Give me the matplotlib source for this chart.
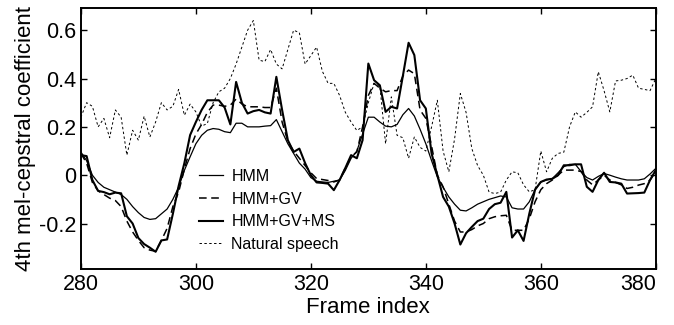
import numpy as np
import matplotlib
matplotlib.use("Agg")
import matplotlib.pyplot as plt

plt.rcParams['font.family'] = ['Liberation Sans', 'DejaVu Sans']

frames = np.arange(280, 381)

hmm = [0.096, 0.06, 0.0, -0.03, -0.05, -0.06, -0.07, -0.08, -0.10, -0.13,
       -0.155, -0.175, -0.183, -0.18, -0.16, -0.14, -0.10, -0.05, 0.02, 0.076,
       0.13, 0.165, 0.186, 0.193, 0.19, 0.18, 0.176, 0.215, 0.215, 0.2,
       0.2, 0.2, 0.203, 0.205, 0.23, 0.18, 0.13, 0.09, 0.05, 0.025,
       -0.01, -0.025, -0.028, -0.03, -0.025, -0.02, 0.02, 0.07, 0.10, 0.17,
       0.24, 0.24, 0.22, 0.203, 0.2, 0.21, 0.25, 0.276, 0.245, 0.19,
       0.13, 0.06, -0.007, -0.05, -0.09, -0.12, -0.145, -0.148, -0.135, -0.12,
       -0.11, -0.10, -0.093, -0.086, -0.09, -0.135, -0.14, -0.14, -0.11, -0.06,
       -0.028, -0.02, -0.014, 0.01, 0.035, 0.045, 0.045, 0.015, -0.01, -0.02,
       -0.005, 0.007, 0.0, -0.008, -0.015, -0.02, -0.02, -0.02, -0.015, 0.005,
       0.028]

hmm_gv = [0.09, 0.05, -0.03, -0.065, -0.08, -0.095, -0.105, -0.13, -0.19, -0.235,
          -0.27, -0.30, -0.31, -0.315, -0.27, -0.22, -0.13, -0.07, 0.025, 0.11,
          0.17, 0.21, 0.26, 0.29, 0.29, 0.285, 0.29, 0.315, 0.295, 0.283,
          0.283, 0.283, 0.28, 0.28, 0.36, 0.22, 0.14, 0.10, 0.07, 0.04,
          0.01, -0.014, -0.018, -0.022, -0.028, -0.02, 0.03, 0.076, 0.096, 0.2,
          0.33, 0.38, 0.36, 0.345, 0.35, 0.35, 0.41, 0.435, 0.42, 0.27,
          0.235, 0.12, 0.0, -0.048, -0.12, -0.19, -0.235, -0.235, -0.225, -0.21,
          -0.20, -0.18, -0.172, -0.168, -0.166, -0.228, -0.228, -0.228, -0.18, -0.11,
          -0.06, -0.035, -0.02, 0.0, 0.021, 0.021, 0.021, 0.015, -0.02, -0.04,
          -0.02, 0.0, -0.02, -0.03, -0.04, -0.055, -0.05, -0.041, -0.035, -0.02,
          0.015]

hmm_gv_ms = [0.083, 0.079, -0.02, -0.065, -0.07, -0.079, -0.072, -0.075, -0.17, -0.2,
             -0.26, -0.285, -0.30, -0.317, -0.27, -0.266, -0.16, -0.045, 0.05, 0.166,
             0.22, 0.27, 0.31, 0.31, 0.31, 0.28, 0.21, 0.386, 0.30, 0.255,
             0.265, 0.27, 0.26, 0.255, 0.407, 0.27, 0.145, 0.096, 0.11, 0.05,
             0.0, -0.03, -0.032, -0.035, -0.062, -0.02, 0.03, 0.083, 0.07, 0.145,
             0.462, 0.393, 0.372, 0.262, 0.283, 0.276, 0.41, 0.548, 0.497, 0.31,
             0.276, 0.09, 0.0, -0.09, -0.13, -0.2, -0.287, -0.24, -0.214, -0.19,
             -0.18, -0.14, -0.12, -0.114, -0.069, -0.258, -0.228, -0.272, -0.159, -0.06,
             -0.028, -0.018, -0.015, 0.0, 0.041, 0.041, 0.045, 0.045, -0.048, -0.069,
             -0.02, 0.01, -0.028, -0.03, -0.035, -0.076, -0.075, -0.074, -0.072, -0.02,
             0.021]

natural = [0.24, 0.30, 0.285, 0.20, 0.235, 0.155, 0.27, 0.24, 0.083, 0.186,
           0.145, 0.244, 0.158, 0.22, 0.30, 0.27, 0.285, 0.355, 0.248, 0.294,
           0.262, 0.203, 0.214, 0.30, 0.345, 0.36, 0.40, 0.46, 0.53, 0.60,
           0.64, 0.476, 0.47, 0.52, 0.46, 0.44, 0.52, 0.60, 0.59, 0.46,
           0.495, 0.53, 0.43, 0.38, 0.38, 0.33, 0.26, 0.22, 0.185, 0.20,
           0.30, 0.38, 0.37, 0.13, 0.324, 0.165, 0.155, 0.07, 0.158, 0.115,
           0.10, 0.2, 0.31, 0.1, 0.014, 0.15, 0.338, 0.26, 0.11, 0.04,
           0.0, -0.07, -0.076, -0.07, -0.02, 0.014, 0.01, -0.04, -0.069, -0.06,
           0.10, 0.014, 0.07, 0.09, 0.095, 0.2, 0.262, 0.24, 0.26, 0.283,
           0.428, 0.35, 0.262, 0.39, 0.393, 0.40, 0.414, 0.36, 0.355, 0.35,
           0.40]

xticks = [280, 300, 320, 340, 360, 380]
yticks = [-0.2, 0, 0.2, 0.4, 0.6]
ytick_labels = ['-0.2', '0', '0.2', '0.4', '0.6']

fig = plt.figure(figsize=(6.74, 3.25), dpi=100)
ax = fig.add_axes([0.120, 0.171, 0.853, 0.803])

ax.plot(frames, hmm, color='black', lw=0.9, label='HMM')
ax.plot(frames, hmm_gv, color='black', lw=1.1, ls=(0, (5, 3)), label='HMM+GV')
ax.plot(frames, hmm_gv_ms, color='black', lw=1.5, label='HMM+GV+MS')
ax.plot(frames, natural, color='black', lw=0.7, ls=(0, (2.5, 2.5)), label='Natural speech')

ax.set_xlim(280, 380)
ax.set_ylim(-0.39, 0.69)
ax.set_xticks(xticks)
ax.set_yticks(yticks)
ax.set_yticklabels(ytick_labels)
ax.tick_params(direction='in', top=True, right=True, labelsize=15.5, length=4, width=1)
ax.get_xticklabels()[-1].set_horizontalalignment('right')
for s in ax.spines.values():
    s.set_linewidth(1.4)

ax.set_xlabel('Frame index', fontsize=16, labelpad=1)
ax.set_ylabel('4th mel-cepstral coefficient', fontsize=16, labelpad=2)

ax.legend(loc='lower left', bbox_to_anchor=(0.181, 0.012), frameon=False,
          fontsize=11.5, handlelength=1.5, handletextpad=0.5, labelspacing=0.48)

fig.savefig('out.png', dpi=100)
